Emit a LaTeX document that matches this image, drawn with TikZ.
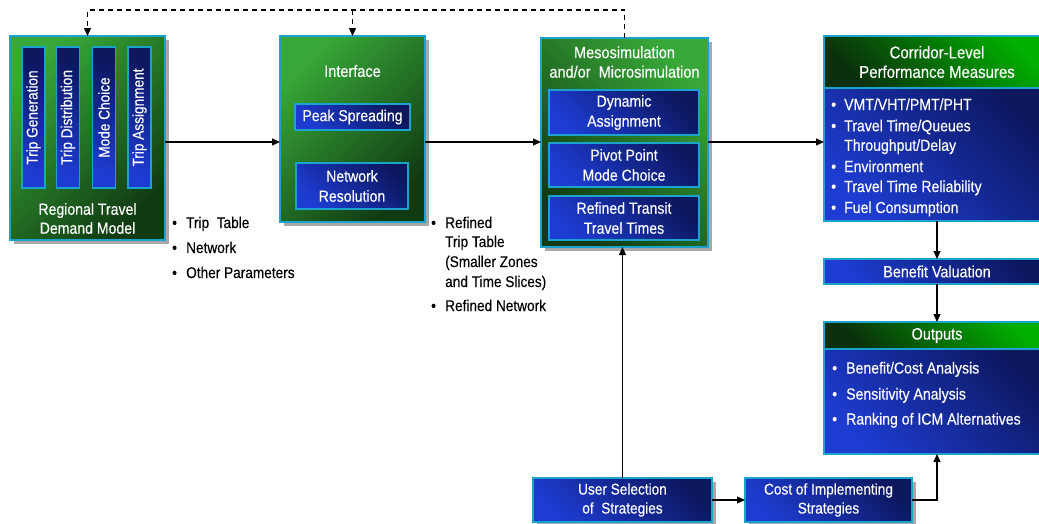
\documentclass[tikz,border=0pt]{standalone}
\usepackage{fontspec}
\setmainfont{Liberation Sans}[FakeStretch=0.88,RawFeature={embolden=0.3}]
\usetikzlibrary{arrows.meta,shadows,calc}
\definecolor{edge}{HTML}{1AA3CC}
\definecolor{glight}{HTML}{38A838}
\definecolor{gdark}{HTML}{103A12}
\definecolor{bdark}{HTML}{0C175E}
\definecolor{blight}{HTML}{1E3CD2}
\definecolor{hgreen}{HTML}{00B000}
\definecolor{hdark}{HTML}{0A300C}
\definecolor{shgray}{HTML}{A8A8A8}
\begin{document}
\begin{tikzpicture}[x=1pt,y=-1pt,
  box/.style={draw=edge, line width=1.4pt, rectangle, inner sep=0pt, outer sep=0pt, text=white, align=center, font=\fontsize{16}{20}\selectfont},
  greenbox/.style={box, top color=glight, bottom color=gdark, shading angle=45},
  greenboxb/.style={box, top color=glight, bottom color=gdark, shading angle=-45},
  headbox/.style={box, top color=hgreen, bottom color=hdark, shading angle=-45},
  bluebox/.style={box, top color=bdark, middle color=bdark!90!blight, bottom color=blight, shading angle=-45},
  barbox/.style={box, top color=bdark, middle color=bdark!80!blight, bottom color=blight, shading angle=-20},
  shadowed/.style={drop shadow={shadow xshift=4pt, shadow yshift=-4pt, fill=shgray, opacity=1}},
  wtext/.style={text=white, align=center, inner sep=0pt, font=\fontsize{16}{19}\selectfont},
  ttext/.style={text=white, align=center, inner sep=0pt, font=\fontsize{16.5}{19.5}\selectfont},
  vtext/.style={rotate=90, text=white, inner sep=0pt, font=\fontsize{15.5}{18}\selectfont},
  lbl/.style={anchor=base west, inner sep=0pt, text=black, font=\fontsize{15.5}{18}\selectfont},
  wlbl/.style={anchor=base west, inner sep=0pt, text=white, font=\fontsize{16}{18}\selectfont},
  arr/.style={draw=black, line width=1.1pt, -{Triangle[length=8pt,width=7pt]}},
  dline/.style={arr, dash pattern=on 5pt off 4pt}
]
\fill[white] (0,0) rectangle (1039,523);
\useasboundingbox (0,0) rectangle (1039,523);

% Regional travel demand model
\node[greenbox, shadowed, minimum width=155pt, minimum height=204pt] (rtdm) at (87.5,138) {};
\node[barbox, minimum width=23pt, minimum height=141pt] (b1) at (33.5,117.5) {};
\node[barbox, minimum width=23pt, minimum height=141pt] (b2) at (68,117.5) {};
\node[barbox, minimum width=23pt, minimum height=141pt] (b3) at (104,117.5) {};
\node[barbox, minimum width=23pt, minimum height=141pt] (b4) at (139.5,117.5) {};
\node[vtext] (b1t) at (b1) {Trip Generation};
\node[vtext] (b2t) at (b2) {Trip Distribution};
\node[vtext] (b3t) at (b3) {Mode Choice};
\node[vtext] (b4t) at (b4) {Trip Assignment};
\node[wtext] (rtdmt) at (87.5,218.5) {Regional Travel\\Demand Model};

% Interface
\node[greenbox, shadowed, minimum width=145pt, minimum height=186pt] (intf) at (352.5,129) {};
\node[ttext] (intft) at (352.5,71) {Interface};
\node[bluebox, minimum width=115pt, minimum height=26pt] (peak) at (352.5,117) {Peak Spreading};
\node[bluebox, minimum width=112pt, minimum height=46pt] (netres) at (352,186) {Network\\Resolution};

% Meso / micro simulation
\node[greenboxb, shadowed, minimum width=167pt, minimum height=209pt] (meso) at (624.5,142.5) {};
\node[ttext] (mesot) at (624.5,62) {Mesosimulation\\and/or\ \ Microsimulation};
\node[bluebox, minimum width=150pt, minimum height=45pt] (dyn) at (624,112.5) {Dynamic\\Assignment};
\node[bluebox, minimum width=150pt, minimum height=44pt] (pivot) at (624,165) {Pivot Point\\Mode Choice};
\node[bluebox, minimum width=150pt, minimum height=44pt] (transit) at (624,218) {Refined Transit\\Travel Times};

% Corridor-level performance measures
\node[headbox, minimum width=226pt, minimum height=52pt, font=\fontsize{17}{19.5}\selectfont] (corrh) at (937,62) {Corridor-Level\\Performance Measures};
\node[bluebox, minimum width=226pt, minimum height=133pt] (corrb) at (937,154.5) {};
\node[wlbl] (c1) at (831,110) {\makebox[13pt][l]{•}VMT/VHT/PMT/PHT};
\node[wlbl] (c2) at (831,131.3) {\makebox[13pt][l]{•}Travel Time/Queues};
\node[wlbl] (c3) at (844,150.8) {Throughput/Delay};
\node[wlbl] (c4) at (831,172) {\makebox[13pt][l]{•}Environment};
\node[wlbl] (c5) at (831,192) {\makebox[13pt][l]{•}Travel Time Reliability};
\node[wlbl] (c6) at (831,213) {\makebox[13pt][l]{•}Fuel Consumption};

% Benefit valuation and outputs
\node[bluebox, minimum width=226pt, minimum height=25pt, font=\fontsize{16.3}{18}\selectfont] (benefit) at (937,271.5) {Benefit Valuation};
\node[headbox, minimum width=226pt, minimum height=27pt, font=\fontsize{16.5}{18}\selectfont] (outh) at (937,335.5) {Outputs};
\node[bluebox, minimum width=226pt, minimum height=105pt] (outb) at (937,401.5) {};
\node[wlbl] (o1) at (832,373.5) {\makebox[14pt][l]{•}Benefit/Cost Analysis};
\node[wlbl] (o2) at (832,399.5) {\makebox[14pt][l]{•}Sensitivity Analysis};
\node[wlbl] (o3) at (832,424.5) {\makebox[14pt][l]{•}Ranking of ICM Alternatives};

% Strategies
\node[bluebox, shadowed, minimum width=179pt, minimum height=44pt, font=\fontsize{15.5}{19}\selectfont] (user) at (622.5,500) {User Selection\\of\ \ Strategies};
\node[bluebox, shadowed, minimum width=167pt, minimum height=44pt, font=\fontsize{15.5}{19}\selectfont] (cost) at (828.5,500) {Cost of Implementing\\Strategies};

% Data labels
\node[lbl] (l1) at (172,228) {\makebox[14pt][l]{•}Trip\ \ Table};
\node[lbl] (l2) at (172,253) {\makebox[14pt][l]{•}Network};
\node[lbl] (l3) at (172,278) {\makebox[14pt][l]{•}Other Parameters};
\node[lbl] (r1) at (431,228) {\makebox[14pt][l]{•}Refined};
\node[lbl] (r2) at (445,247) {Trip Table};
\node[lbl] (r3) at (445,267) {(Smaller Zones};
\node[lbl] (r4) at (445,287) {and Time Slices)};
\node[lbl] (r5) at (431,311) {\makebox[14pt][l]{•}Refined Network};

% Connectors
\coordinate (mid) at (0,142);
\coordinate (top) at (0,10);
\draw[arr] (rtdm.east |- mid) -- (intf.west |- mid);
\draw[arr] (intf.east |- mid) -- (meso.west |- mid);
\draw[arr] (meso.east |- mid) -- (corrb.west |- mid);
\draw[arr] (corrb.south) -- (benefit.north);
\draw[arr] (benefit.south) -- (outh.north);
\draw[arr] (user.east) -- (cost.west);
\draw[arr] (cost.east) -| (outb.south);
\draw[arr] (user.north) -- (user.north |- meso.south);
\draw[dline] (meso.north) |- (rtdm.north |- top) -- (rtdm.north);
\draw[dline] (intf.north |- top) -- (intf.north);
\end{tikzpicture}
\end{document}
